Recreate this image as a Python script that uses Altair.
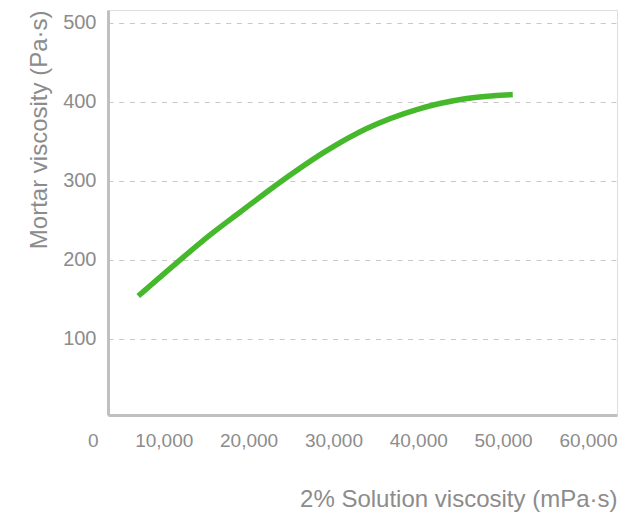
import altair as alt
import pandas as pd

# data
solution_visc = [3570, 8100, 12000, 15560, 20280, 25780, 30500, 36390, 42280, 47710]
mortar_visc = [154, 196, 231, 260, 298, 338, 366, 390, 404, 409]

x_ticks = [0, 10000, 20000, 30000, 40000, 50000, 60000]
y_ticks = [100, 200, 300, 400, 500]

df = pd.DataFrame({"sol": solution_visc, "mortar": mortar_visc})

FONT = "Liberation Sans"
TXT = "#8c8c8c"
AXIS = "#c0c0c0"

x_axis = alt.Axis(
    values=x_ticks,
    labelExpr="format(datum.value, ',d')",
    title="2% Solution viscosity (mPa·s)",
    grid=False,
    ticks=False,
    tickSize=0,
    domainColor=AXIS,
    domainWidth=3,
    labelFont=FONT,
    labelFontSize=19,
    labelColor=TXT,
    labelAlign="right",
    labelBaseline="middle",
    labelPadding=25,
    labelFlush=False,
    labelOverlap=False,
    labelOffset={"condition": {"test": "datum.value === 0", "value": -10}, "value": 0},
    titleFont=FONT,
    titleFontSize=24,
    titleFontWeight="normal",
    titleColor=TXT,
    titleAlign="right",
    titleAnchor="end",
    titleBaseline="alphabetic",
    titleX=509,
    titleY=91,
)

y_axis = alt.Axis(
    values=y_ticks,
    title="Mortar viscosity (Pa·s)",
    grid=True,
    gridColor="#c8c8c8",
    gridDash=[5, 5.7],
    gridWidth=1,
    ticks=False,
    tickSize=0,
    domainColor=AXIS,
    domainWidth=3,
    labelFont=FONT,
    labelFontSize=20,
    labelColor=TXT,
    labelPadding=12,
    labelFlush=False,
    labelOverlap=False,
    titleFont=FONT,
    titleFontSize=24,
    titleFontWeight="normal",
    titleColor=TXT,
    titleAngle=270,
    titleAlign="right",
    titleAnchor="end",
    titleBaseline="alphabetic",
    titleX=-62,
    titleY=0,
)

chart = (
    alt.Chart(df)
    .mark_line(color="#46b82c", strokeWidth=5.5, interpolate="monotone", strokeCap="butt")
    .encode(
        x=alt.X("sol:Q", scale=alt.Scale(domain=[0, 60000], nice=False, zero=False), axis=x_axis),
        y=alt.Y("mortar:Q", scale=alt.Scale(domain=[3.3, 516], nice=False, zero=False), axis=y_axis),
    )
    .properties(
        width=509,
        height=405,
        autosize=alt.AutoSizeParams(type="none"),
        padding={"left": 100, "top": 2, "right": 4, "bottom": 100},
    )
    .configure_view(stroke=None)
    .configure(background="white")
)

chart.save("out.html", embed_options={"renderer": "svg", "actions": False})
